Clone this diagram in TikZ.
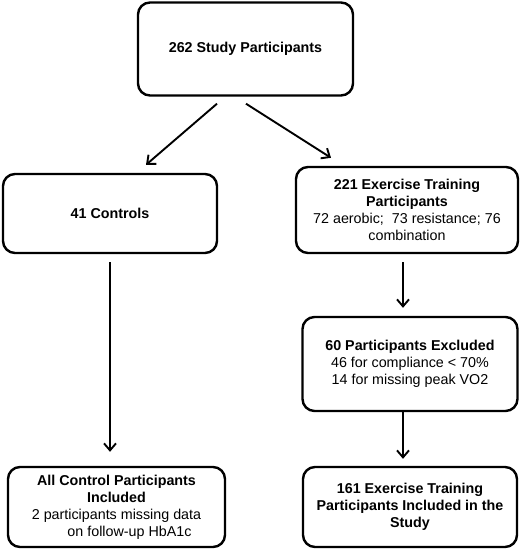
\documentclass[tikz,border=0pt]{standalone}
\usepackage{fontspec}
\setmainfont{Liberation Sans}
\usetikzlibrary{arrows.meta}
\begin{document}
\begin{tikzpicture}[x=1pt,y=-1pt,
  box/.style={draw, line width=2.4pt, rounded corners=12pt, align=center, inner sep=0pt,
    font=\fontsize{14.3}{17}\selectfont},
  arr/.style={line width=1.9pt, -{Straight Barb[length=7pt,width=12pt,line width=1.9pt]}}]
\useasboundingbox (0,0) rectangle (520,550);
\node[box, minimum width=215pt, minimum height=93pt] (top) at (245.5,49) {\textbf{262 Study Participants}};
\node[box, minimum width=214pt, minimum height=79pt] (ctrl) at (110,213.5) {\textbf{41 Controls}};
\node[box, minimum width=222pt, minimum height=86pt] (ex) at (407,210)
  {\textbf{221 Exercise Training}\\\textbf{Participants}\\72 aerobic;\ \ 73 resistance; 76\\combination};
\node[box, minimum width=215pt, minimum height=94pt] (excl) at (410,364)
  {\textbf{60 Participants Excluded}\\46 for compliance < 70\%\\14 for missing peak VO2};
\node[box, minimum width=217pt, minimum height=80pt] (allc) at (116.5,507)
  {\textbf{All Control Participants}\\\textbf{Included}\\2 participants missing data\\\hspace*{26pt}on follow-up HbA1c};
\node[box, minimum width=214pt, minimum height=80pt] (fin) at (410,507)
  {\textbf{161 Exercise Training}\\\textbf{Participants Included in the}\\\textbf{Study}};
\draw[arr] ([xshift=-28.5pt,yshift=-7pt]top.south) -- ([xshift=36pt,yshift=8pt]ctrl.north);
\draw[arr] ([xshift=0.5pt,yshift=-7pt]top.south) -- ([xshift=-76pt,yshift=8pt]ex.north);
\draw[arr] ([yshift=-8pt]ctrl.south) -- ([yshift=14pt]ctrl.south |- allc.north);
\draw[arr] ([xshift=-4pt,yshift=-8pt]ex.south) -- ([xshift=-4pt,yshift=8pt]ex.south |- excl.north);
\draw[arr] ([xshift=-7pt]excl.south) -- ([xshift=-7pt,yshift=7pt]excl.south |- fin.north);
\end{tikzpicture}
\end{document}
